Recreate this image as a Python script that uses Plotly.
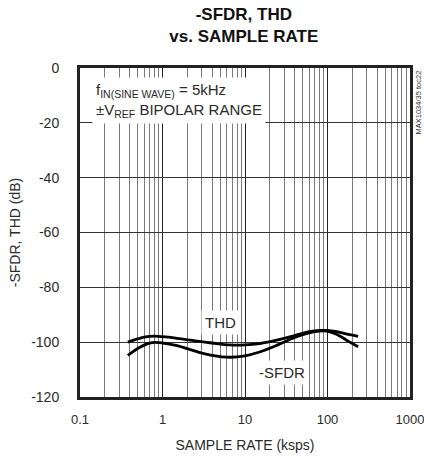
import plotly.graph_objects as go

# Data
thd_x = [0.38, 0.5, 0.65, 0.8, 1.0, 1.5, 2.5, 4, 6.5, 10, 15, 25, 40, 60, 90, 130, 180, 235]
thd_y = [-100.0, -98.8, -98.0, -97.8, -98.0, -98.6, -99.5, -100.3, -101.0, -101.0, -100.5, -99.2, -97.6, -96.2, -95.7, -96.2, -97.2, -97.9]
sfdr_x = [0.38, 0.5, 0.65, 0.8, 1.0, 1.5, 2.5, 4, 6.5, 10, 15, 25, 40, 60, 90, 130, 180, 235]
sfdr_y = [-104.8, -102.3, -100.6, -100.1, -100.3, -101.3, -103.3, -104.8, -105.5, -105.0, -103.6, -101.0, -98.3, -96.6, -95.9, -97.2, -99.7, -101.7]

x_tickvals = [0.1, 1, 10, 100, 1000]
x_ticktext = ["0.1", "1", "10", "100", "1000"]
y_tickvals = [0, -20, -40, -60, -80, -100, -120]
y_ticktext = ["0", "-20", "-40", "-60", "-80", "-100", "-120"]

FONT = "Liberation Sans, Arial, sans-serif"
TXT = "#2a2a2a"

fig = go.Figure()
fig.add_trace(go.Scatter(x=thd_x, y=thd_y, mode="lines", line=dict(color="black", width=2.8, shape="spline"), name="THD"))
fig.add_trace(go.Scatter(x=sfdr_x, y=sfdr_y, mode="lines", line=dict(color="black", width=2.8, shape="spline"), name="-SFDR"))

fig.update_layout(
    width=424, height=458,
    margin=dict(l=80, r=14, t=68, b=61, autoexpand=False),
    paper_bgcolor="white", plot_bgcolor="white",
    showlegend=False,
    font=dict(family=FONT, size=14, color=TXT),
    title=dict(text="<b>-SFDR, THD<br>vs. SAMPLE RATE</b>", x=0.575, xanchor="center",
               y=0.956, yanchor="middle", yref="container",
               font=dict(family=FONT, size=17, color="#111")),
)
fig.update_xaxes(
    type="log", range=[-1.0002, 3.0002], automargin=False,
    tickvals=x_tickvals, ticktext=x_ticktext, ticklabeloverflow="allow",
    showgrid=True, gridcolor="#222", gridwidth=1,
    minor=dict(dtick="D1", showgrid=True, gridcolor="#7a7a7a", gridwidth=1, ticks=""),
    showline=True, linecolor="#222", linewidth=3, mirror=True,
    ticks="", zeroline=False, ticklabelstandoff=8,
    tickfont=dict(family=FONT, size=13, color=TXT),
    title=dict(text="SAMPLE RATE (ksps)", font=dict(family=FONT, size=14, color=TXT), standoff=15),
)
fig.update_yaxes(
    range=[-120, 0], automargin=False,
    tickvals=y_tickvals, ticktext=y_ticktext,
    showgrid=True, gridcolor="#333", gridwidth=1,
    showline=True, linecolor="#222", linewidth=3, mirror=True,
    ticks="", zeroline=False, ticklabelstandoff=15,
    tickfont=dict(family=FONT, size=14, color=TXT),
    title=dict(text="-SFDR, THD (dB)", font=dict(family=FONT, size=14, color=TXT), standoff=8),
)

fig.add_annotation(
    xref="paper", yref="paper", x=0.036, y=0.973, xanchor="left", yanchor="top",
    text="f<sub>IN(SINE WAVE)</sub> = 5kHz<br>±V<sub>REF</sub> BIPOLAR RANGE",
    align="left", showarrow=False, bgcolor="white", borderpad=3,
    font=dict(family=FONT, size=15, color=TXT),
)
fig.add_annotation(
    x=0.70, y=-93, xref="x", yref="y", text="THD", showarrow=False, bgcolor="white", borderpad=3,
    font=dict(family=FONT, size=15, color=TXT), xanchor="center", yanchor="middle",
)
fig.add_annotation(
    x=1.45, y=-111, xref="x", yref="y", text="-SFDR", showarrow=False, bgcolor="white", borderpad=3,
    font=dict(family=FONT, size=15, color=TXT), xanchor="center", yanchor="middle",
)
fig.add_annotation(
    xref="paper", yref="paper", x=1.006, y=1.0, xanchor="left", yanchor="top",
    text="MAX1034/35 toc22", textangle=-90, showarrow=False,
    font=dict(family=FONT, size=7.5, color="#333"),
)

fig.write_html("out.html", config={"displayModeBar": False},
               post_script="document.body.style.margin='0';")
